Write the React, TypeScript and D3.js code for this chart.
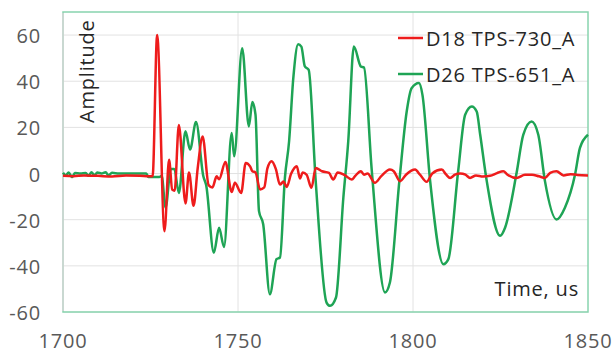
import { useEffect, useRef } from 'react';
import * as d3 from 'd3';

// time axis (us) and amplitude readings
const redTime = [
  1700, 1703, 1706, 1710, 1714, 1718, 1722, 1724.5, 1725.6, 1726.9, 1729.0, 1730.3, 1731.2, 1731.9,
  1733.1, 1735.0, 1736.0, 1737.3, 1738.5, 1739.9, 1741.6, 1742.7, 1743.9, 1744.6, 1746.4, 1748.2,
  1749.1, 1750.9, 1752.2, 1753.5, 1754.1, 1755, 1756.3, 1757.5, 1758.4, 1759.6, 1760.8, 1762, 1763,
  1763.9, 1765.2, 1766.8, 1767.7, 1768.5, 1769.6, 1771, 1772.2, 1774, 1776, 1777.2, 1778.5, 1780.5,
  1782.5, 1783.5, 1785.1, 1786, 1787, 1789.1, 1791, 1793.4, 1794.5, 1796.3, 1798, 1800.6, 1802,
  1803.9, 1805.5, 1808.2, 1809.5, 1810.6, 1812, 1813.5, 1815, 1816.3, 1818, 1820, 1822, 1824,
  1825.8, 1827, 1829.6, 1832, 1834, 1836, 1837.7, 1839.2, 1841, 1843, 1845, 1847, 1850,
];
const redValue = [
  -1, -1.2, -0.8, -1, -1.3, -0.9, -1, -1.2, -1.2, 60, -25, 6, -7, -7.5,
  21, -13, 0.5, -14, 2.5, 16, -5, -6, -1.2, -2.5, 5, -8,
  -4, -8.4, 4.6, 3, 1, 0.5, -6.9, -6, 2.2, 5.3, 2, -4.8, -3.5,
  -5.8, 0, 3.2, -2.2, 0.5, -0.5, -6.2, 2.4, 1, 0.3, -2.6, 0.5, -0.7,
  -2.6, -1, 1, -0.5, 0, -4, -1, 1.7, 1, -3.3, -0.5, 1.7, -0.5,
  -3.6, 0, 1.7, -0.5, -1.9, -0.5, 0, -0.5, -1.9, -0.8, -1.3, -1, 0.2,
  1, -0.5, -1.9, -0.5, -0.5, -1.2, -1.9, 0.3, 1, -0.8, -0.3, -0.6, -0.8,
];

const greenTime = [
  1700, 1700.8, 1701.6, 1702.6, 1703.4, 1705, 1706.5, 1707.3, 1708.1, 1709, 1709.8, 1711, 1712.2,
  1713, 1714, 1716, 1720, 1723.8, 1724.4, 1727.5, 1728.2, 1729.3, 1730.8, 1731.8, 1733.1, 1735.0,
  1736.3, 1738.0, 1740.1, 1740.9, 1743.1, 1744.6, 1746.0, 1748.2, 1748.9, 1751.2, 1753.1, 1754.1,
  1755, 1756.0, 1757.2, 1759.1, 1761.0, 1762.0, 1763.4, 1764.6, 1765.8, 1767.2, 1768.1, 1769.1,
  1770.2, 1772.2, 1775.3, 1776.3, 1778.0, 1780.1, 1781.5, 1783.1, 1785.1, 1786, 1788.2, 1792.0,
  1793.4, 1796.1, 1798.2, 1799.6, 1801.7, 1802.7, 1804.9, 1808.7, 1810.1, 1812.9, 1814.9, 1816.8,
  1818.2, 1819.2, 1821, 1824.9, 1826.3, 1829.6, 1831.5, 1833.9, 1835.8, 1837.7, 1841, 1843.4,
  1846.3, 1847.7, 1850,
];
const greenValue = [
  0.3, -0.8, 0.4, -1.5, 0.2, 0, 0.2, -1, 0.6, -0.8, 0.5, 0, 0.6,
  -0.8, 0.3, 0, 0, 0, -1.5, -1.5, -1, -14.8, 2, 2, -8.4, 18.3,
  10.4, 22.3, -1.2, -5, -34.3, -23.5, -31.8, 17.6, 7.5, 54.3, 20.4, 31,
  25.5, -16.3, -22, -52.3, -37.1, -36.4, -1.9, 14, 41.3, 56, 55, 46.4,
  44.9, -3.3, -55.9, -57.3, -53.7, -10.5, 14, 55, 46.4, 45.9, 1.7, -51.5,
  -47.2, -3.3, 26.9, 37, 39.2, 34.1, -3.3, -39.3, -37.1, 1, 25.5, 29.1,
  26.9, 16.8, -2.6, -27, -23.5, 0.3, 16.8, 22.6, 16.8, -3.3, -19.9, -14.8,
  -0.4, 11.1, 16.8,
];

const yTicks = [-60, -40, -20, 0, 20, 40, 60];
const xTicks = [1700, 1750, 1800, 1850];
const seriesNames = ['D18 TPS-730_A', 'D26 TPS-651_A'];

export default function App() {
  const ref = useRef<SVGSVGElement | null>(null);
  const width = 614;
  const height = 354;

  useEffect(() => {
    if (!ref.current) return;
    const svg = d3.select(ref.current);
    svg.selectAll('*').remove();

    const font = "'Open Sans', sans-serif";
    const left = 63, right = 588, top = 12, bottom = 312;

    const x = d3.scaleLinear().domain([1700, 1850]).range([left, right]);
    const y = d3.scaleLinear().domain([-60, 70]).range([bottom, top]);

    svg.append('rect').attr('width', width).attr('height', height).attr('fill', '#fff');

    // grid
    svg.append('g')
      .selectAll('line')
      .data(yTicks)
      .join('line')
      .attr('x1', left).attr('x2', right)
      .attr('y1', (d) => y(d)).attr('y2', (d) => y(d))
      .attr('stroke', '#e2e2e2').attr('stroke-width', 1);
    svg.append('g')
      .selectAll('line')
      .data(xTicks.slice(1, -1))
      .join('line')
      .attr('x1', (d) => x(d)).attr('x2', (d) => x(d))
      .attr('y1', top).attr('y2', bottom)
      .attr('stroke', '#e2e2e2').attr('stroke-width', 1);

    // plot area border
    svg.append('rect')
      .attr('x', left).attr('y', top)
      .attr('width', right - left).attr('height', bottom - top)
      .attr('fill', 'none')
      .attr('stroke', '#88d4ae').attr('stroke-width', 1.5);
    svg.append('line')
      .attr('x1', left).attr('x2', left).attr('y1', top + 1).attr('y2', bottom - 1)
      .attr('stroke', '#d6d6d6').attr('stroke-width', 1.5);

    const line = d3.line<[number, number]>()
      .x((d) => x(d[0]))
      .y((d) => y(d[1]))
      .curve(d3.curveMonotoneX);

    const greenPts = greenTime.map((t, i) => [t, greenValue[i]] as [number, number]);
    const redPts = redTime.map((t, i) => [t, redValue[i]] as [number, number]);

    svg.append('path')
      .attr('d', line(greenPts))
      .attr('fill', 'none')
      .attr('stroke', '#1ea455')
      .attr('stroke-width', 2.5)
      .attr('stroke-linejoin', 'round');
    svg.append('path')
      .attr('d', line(redPts))
      .attr('fill', 'none')
      .attr('stroke', '#ee1c1c')
      .attr('stroke-width', 2.5)
      .attr('stroke-linejoin', 'round');

    // tick labels
    svg.append('g')
      .selectAll('text')
      .data(yTicks)
      .join('text')
      .attr('x', 41)
      .attr('y', (d) => y(d) + 8)
      .attr('text-anchor', 'end')
      .attr('font-family', font)
      .attr('font-size', 20)
      .attr('letter-spacing', 0.8)
      .attr('fill', '#595959')
      .text((d) => String(d));
    svg.append('g')
      .selectAll('text')
      .data(xTicks)
      .join('text')
      .attr('x', (d) => x(d))
      .attr('y', 348)
      .attr('text-anchor', 'middle')
      .attr('font-family', font)
      .attr('font-size', 20)
      .attr('letter-spacing', 0.8)
      .attr('fill', '#595959')
      .text((d) => String(d));

    // axis titles
    svg.append('text')
      .attr('transform', 'translate(94,123) rotate(-90)')
      .attr('font-family', font)
      .attr('font-size', 20)
      .attr('letter-spacing', 0.8)
      .attr('fill', '#262626')
      .text('Amplitude');
    svg.append('text')
      .attr('x', 579)
      .attr('y', 296)
      .attr('text-anchor', 'end')
      .attr('font-family', font)
      .attr('font-size', 20)
      .attr('letter-spacing', 0.8)
      .attr('fill', '#262626')
      .text('Time, us');

    // legend
    const colors = ['#ee1c1c', '#1ea455'];
    const legend = svg.append('g');
    seriesNames.forEach((name, i) => {
      const ly = 38 + i * 36;
      legend.append('line')
        .attr('x1', 398).attr('x2', 423)
        .attr('y1', ly).attr('y2', ly)
        .attr('stroke', colors[i]).attr('stroke-width', 2.5);
      legend.append('text')
        .attr('x', 426)
        .attr('y', ly + 7.5)
        .attr('font-family', font)
        .attr('font-size', 20)
        .attr('letter-spacing', 0.8)
        .attr('fill', '#262626')
        .text(name);
    });
  }, []);

  return (
    <svg
      ref={ref}
      width={width}
      height={height}
      style={{ position: 'absolute', left: 0, top: 0, display: 'block' }}
    />
  );
}
